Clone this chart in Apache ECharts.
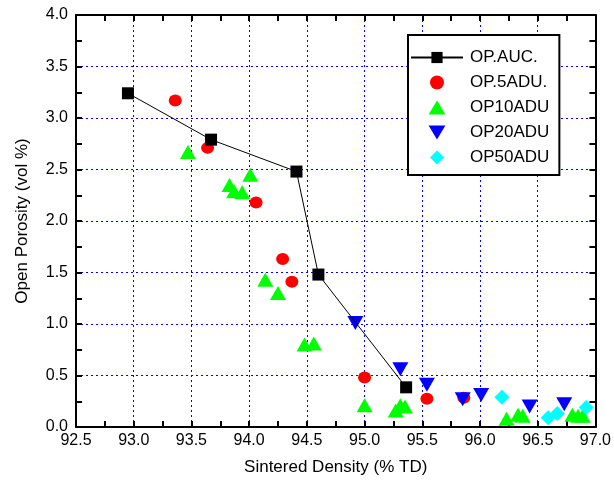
<!DOCTYPE html>
<html>
<head>
<meta charset="utf-8">
<script src="https://cdn.jsdelivr.net/npm/echarts@6/dist/echarts.min.js"></script>
<style>
  html, body { margin: 0; padding: 0; background: #fff; }
  #chart { width: 614px; height: 483px; }
</style>
</head>
<body>
<div id="chart"></div>
<script>
// data
const auc_x = [92.95, 93.67, 94.41, 94.60, 95.36];
const auc_y = [3.24, 2.79, 2.48, 1.48, 0.385];
const adu5_x = [93.36, 93.64, 94.06, 94.29, 94.37, 95.00, 95.54, 95.86];
const adu5_y = [3.17, 2.71, 2.18, 1.63, 1.41, 0.48, 0.275, 0.285];
const adu10_x = [93.47, 93.83, 93.87, 93.94, 94.01, 94.14, 94.25, 94.48, 94.56, 95.00,
  95.27, 95.31, 95.35, 96.23, 96.33, 96.37, 96.80, 96.85, 96.89];
const adu10_y = [2.67, 2.35, 2.29, 2.28, 2.45, 1.43, 1.30, 0.80, 0.81, 0.21,
  0.16, 0.21, 0.20, 0.08, 0.12, 0.11, 0.12, 0.11, 0.11];
const adu20_x = [94.92, 95.31, 95.54, 95.85, 96.01, 96.43, 96.73];
const adu20_y = [1.01, 0.56, 0.41, 0.27, 0.31, 0.20, 0.22];
const adu50_x = [96.19, 96.59, 96.67, 96.92];
const adu50_y = [0.29, 0.09, 0.13, 0.19];

const series_names = ["OP.AUC.", "OP.5ADU.", "OP10ADU", "OP20ADU", "OP50ADU"];
const x_name = "Sintered Density (% TD)";
const y_name = "Open Porosity (vol %)";

const pairs = (xs, ys) => xs.map((x, i) => [x, ys[i]]);

const chart = echarts.init(document.getElementById("chart"));
const font = "'Liberation Sans', Arial, sans-serif";

// legend icons as paths so they keep their shape inside the wide item box
const icons = {
  circle: "path://M0,5A5,5,0,1,1,10,5A5,5,0,1,1,0,5Z",
  up: "path://M0,10L6,0L12,10Z",
  down: "path://M0,0L12,0L6,10Z",
  diamond: "path://M5,0L10,5L5,10L0,5Z",
};

const grid_line = { show: true, lineStyle: { color: "#0000ff", width: 1, type: [2, 3] } };
const axis_line = { show: true, onZero: false, lineStyle: { color: "#000", width: 2 } };
const tick = { inside: true, length: 6, lineStyle: { color: "#000", width: 2 } };
const minor = { show: true, splitNumber: 2, length: 6, lineStyle: { color: "#000", width: 2 } };

chart.setOption({
  backgroundColor: "#fff",
  animation: false,
  grid: { left: 76, right: 17, top: 15, bottom: 56 },
  legend: {
    orient: "vertical",
    left: 408,
    top: 35,
    width: 165,
    padding: [14, 10, 9, 2],
    itemWidth: 52,
    itemHeight: 14,
    itemGap: 8,
    borderColor: "#000",
    borderWidth: 2,
    backgroundColor: "#fff",
    selectedMode: false,
    textStyle: { fontFamily: font, fontSize: 17, color: "#000", padding: [0, 0, 0, 2] },
    data: [
      { name: series_names[0] },
      { name: series_names[1], icon: icons.circle },
      { name: series_names[2], icon: icons.up },
      { name: series_names[3], icon: icons.down },
      { name: series_names[4], icon: icons.diamond },
    ],
  },
  xAxis: [
    {
      type: "value",
      min: 92.5,
      max: 97.0,
      interval: 0.5,
      name: x_name,
      nameLocation: "middle",
      nameGap: 32,
      nameTextStyle: { fontFamily: font, fontSize: 17, color: "#000" },
      axisLine: axis_line,
      axisTick: tick,
      minorTick: minor,
      axisLabel: {
        fontFamily: font, fontSize: 16, color: "#000", margin: 6,
        formatter: (v) => v.toFixed(1),
      },
      splitLine: grid_line,
    },
    {
      type: "value",
      position: "top",
      min: 92.5,
      max: 97.0,
      interval: 0.5,
      axisLine: axis_line,
      axisTick: tick,
      minorTick: minor,
      axisLabel: { show: false },
      splitLine: { show: false },
    },
  ],
  yAxis: [
    {
      type: "value",
      min: 0,
      max: 4,
      interval: 0.5,
      name: y_name,
      nameLocation: "middle",
      nameGap: 45,
      nameTextStyle: { fontFamily: font, fontSize: 17, color: "#000" },
      axisLine: axis_line,
      axisTick: tick,
      minorTick: minor,
      axisLabel: {
        fontFamily: font, fontSize: 16, color: "#000", margin: 8,
        formatter: (v) => v.toFixed(1),
      },
      splitLine: grid_line,
    },
    {
      type: "value",
      position: "right",
      min: 0,
      max: 4,
      interval: 0.5,
      axisLine: axis_line,
      axisTick: tick,
      minorTick: minor,
      axisLabel: { show: false },
      splitLine: { show: false },
    },
  ],
  series: [
    {
      name: series_names[0],
      type: "line",
      data: pairs(auc_x, auc_y),
      symbol: "rect",
      symbolSize: 12,
      itemStyle: { color: "#000" },
      lineStyle: { color: "#000", width: 1 },
      z: 5,
    },
    {
      name: series_names[1],
      type: "scatter",
      data: pairs(adu5_x, adu5_y),
      symbol: "circle",
      symbolSize: [13, 12],
      itemStyle: { color: "#ff0000", opacity: 1 },
    },
    {
      name: series_names[2],
      type: "scatter",
      data: pairs(adu10_x, adu10_y),
      symbol: "triangle",
      symbolSize: [16, 14],
      itemStyle: { color: "#00ff00", opacity: 1 },
    },
    {
      name: series_names[3],
      type: "scatter",
      data: pairs(adu20_x, adu20_y),
      symbol: "triangle",
      symbolRotate: 180,
      symbolSize: [16, 14],
      itemStyle: { color: "#0000ff", opacity: 1 },
    },
    {
      name: series_names[4],
      type: "scatter",
      data: pairs(adu50_x, adu50_y),
      symbol: "diamond",
      symbolSize: 15,
      itemStyle: { color: "#00ffff", opacity: 1 },
    },
  ],
});
</script>
</body>
</html>
